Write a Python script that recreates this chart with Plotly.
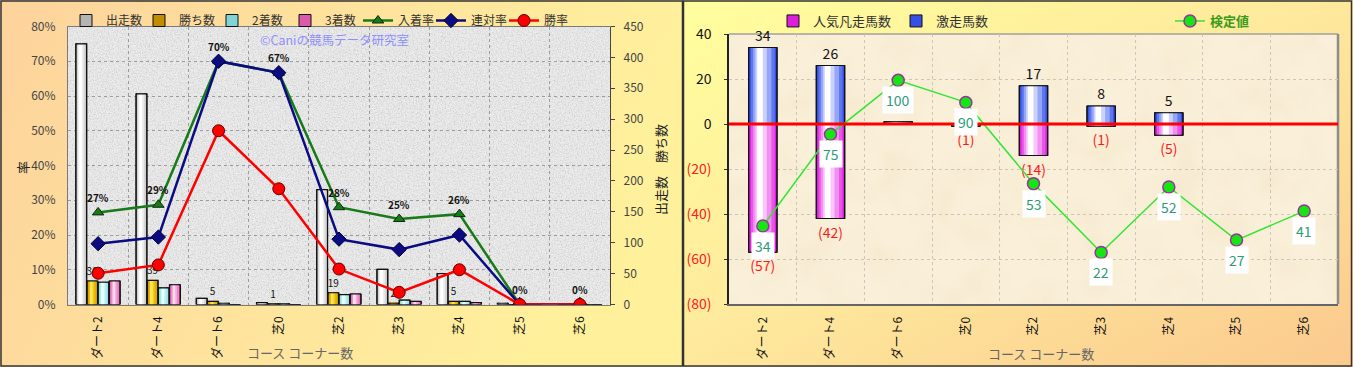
import base64
import plotly.graph_objects as go

# ---------------- data ----------------
categories = ['ダート2', 'ダート4', 'ダート6', '芝0', '芝2', '芝3', '芝4', '芝5', '芝6']

# left chart (counts on right axis, rates in % on left axis)
runs = [422, 341, 10, 3, 186, 57, 50, 2, 0]
wins = [38, 39, 5, 1, 19, 2, 5, 0, 0]
seconds = [36, 27, 2, 1, 16, 7, 5, 0, 0]
thirds = [38, 32, 0, 0, 17, 5, 3, 0, 0]
place_rate = [26.5, 28.7, 70.0, 66.7, 28.0, 24.6, 26.0, 0, 0]
quinella_rate = [17.5, 19.4, 70.0, 66.7, 18.8, 15.8, 20.0, 0, 0]
win_rate = [9.0, 11.4, 50.0, 33.3, 10.2, 3.5, 10.0, 0, 0]
place_labels = ['27%', '29%', '70%', '67%', '28%', '25%', '26%', '0%', '0%']
pct_ticks = [0, 10, 20, 30, 40, 50, 60, 70, 80]
pct_tick_text = ['0%', '10%', '20%', '30%', '40%', '50%', '60%', '70%', '80%']
count_ticks = [0, 50, 100, 150, 200, 250, 300, 350, 400, 450]

# right chart
hit_counts = [34, 26, 1, 0, 17, 8, 5, 0, 0]          # 激走馬数
hit_labels = ['34', '26', '', '', '17', '8', '5', '', '']
flop_counts = [57, 42, 0, 1, 14, 1, 5, 0, 0]         # 人気凡走馬数
test_values = [-45.3, -4.6, 19.4, 9.6, -26.5, -57.1, -28.0, -51.6, -38.7]
test_labels = ['34', '75', '100', '90', '53', '22', '52', '27', '41']
right_tick_vals = [40, 20, 0, -20, -40, -60, -80]
right_tick_text = ['40', '20', '0', '(20)', '(40)', '(60)', '(80)']

# ---------------- geometry helpers ----------------
W, H = 1353, 367
FONT = 'Noto Sans CJK JP, Noto Sans, sans-serif'


def px(x):
    return x / W


def py(y):
    return 1 - y / H


L_X0, L_X1, L_Y0, L_Y1 = 68, 610, 26.5, 304.5
R_X0, R_X1, R_Y0, R_Y1 = 729, 1338, 34, 304

# ---------------- background (svg) ----------------
svg = f"""<svg xmlns='http://www.w3.org/2000/svg' width='{W}' height='{H}' viewBox='0 0 {W} {H}' preserveAspectRatio='none'>
<defs>
<linearGradient id='gl' x1='0' y1='0' x2='1' y2='0.25'>
<stop offset='0' stop-color='#fdd39c'/><stop offset='0.55' stop-color='#fee49d'/><stop offset='1' stop-color='#fff19c'/>
</linearGradient>
<linearGradient id='gr' x1='0' y1='0' x2='1' y2='1'>
<stop offset='0' stop-color='#ffff9e'/><stop offset='0.5' stop-color='#fee89c'/><stop offset='1' stop-color='#fbc98e'/>
</linearGradient>
<filter id='granite' x='0' y='0' width='1' height='1'>
<feTurbulence type='fractalNoise' baseFrequency='0.75' numOctaves='3' seed='4'/>
<feColorMatrix type='matrix' values='0 0 0 0 0.35  0 0 0 0 0.35  0 0 0 0 0.35  0.9 0 0 0 -0.36'/>
</filter>
<filter id='paper' x='0' y='0' width='1' height='1'>
<feTurbulence type='fractalNoise' baseFrequency='0.025' numOctaves='3' seed='7'/>
<feColorMatrix type='matrix' values='0 0 0 0 0.88  0 0 0 0 0.78  0 0 0 0 0.55  0.9 0 0 0 -0.33'/>
</filter>
</defs>
<rect x='0' y='0' width='683' height='{H}' fill='url(#gl)'/>
<rect x='683' y='0' width='{W-683}' height='{H}' fill='url(#gr)'/>
<rect x='{L_X0}' y='{L_Y0}' width='{L_X1-L_X0}' height='{L_Y1-L_Y0}' fill='#ececec'/>
<rect x='{L_X0}' y='{L_Y0}' width='{L_X1-L_X0}' height='{L_Y1-L_Y0}' fill='#fff' filter='url(#granite)'/>
<rect x='{R_X0}' y='{R_Y0}' width='{R_X1-R_X0}' height='{R_Y1-R_Y0}' fill='#faf0da'/>
<rect x='{R_X0}' y='{R_Y0}' width='{R_X1-R_X0}' height='{R_Y1-R_Y0}' fill='#fff' filter='url(#paper)'/>
<line x1='{R_X0}' y1='{R_Y0}' x2='{R_X1}' y2='{R_Y0}' stroke='#a0a0a0' stroke-width='1.5'/>
<line x1='{R_X1}' y1='{R_Y0}' x2='{R_X1}' y2='{R_Y1}' stroke='#8c8c8c' stroke-width='2.5'/>
<rect x='1' y='1' width='681.5' height='{H-2}' fill='none' stroke='#333' stroke-width='1.5'/>
<rect x='683.5' y='1' width='{W-685}' height='{H-2}' fill='none' stroke='#333' stroke-width='1.5'/>
</svg>"""
bg_uri = 'data:image/svg+xml;base64,' + base64.b64encode(svg.encode('utf-8')).decode('ascii')

fig = go.Figure()


def layered_bars(x, y, offset, width, base_color, stops, name, legend, xaxis, yaxis,
                 text=None, textfont=None, showlegend=True):
    fig.add_trace(go.Bar(
        x=x, y=y, offset=offset, width=width, name=name, legend=legend,
        legendgroup=name, showlegend=showlegend, xaxis=xaxis, yaxis=yaxis,
        marker=dict(color=base_color, line=dict(color='#111', width=1)),
        textposition='none', hoverinfo='skip'))
    for lft, rgt, col in stops:
        fig.add_trace(go.Bar(
            x=x, y=y, offset=offset + lft * width, width=(rgt - lft) * width,
            legendgroup=name, showlegend=False, xaxis=xaxis, yaxis=yaxis,
            marker=dict(color=col, line=dict(width=0)),
            textposition='none', hoverinfo='skip'))
    fig.add_trace(go.Bar(
        x=x, y=y, offset=offset, width=width, legendgroup=name, showlegend=False,
        xaxis=xaxis, yaxis=yaxis,
        marker=dict(color='rgba(0,0,0,0)', line=dict(color='#111', width=1.2)),
        text=text, textposition='outside' if text else 'none', constraintext='none',
        cliponaxis=False, textfont=textfont, hoverinfo='skip'))


# ---------------- left chart ----------------
BW = 0.18
layered_bars(categories, runs, -0.37, BW, '#b4b4b4',
             [(0.1, 0.9, '#d6d6d6'), (0.2, 0.72, '#eeeeee'), (0.3, 0.55, '#ffffff')],
             '出走数', 'legend', 'x', 'y')
layered_bars(categories, wins, -0.185, BW, '#c08e00',
             [(0.12, 0.88, '#e2b000'), (0.25, 0.68, '#f4cc10'), (0.35, 0.52, '#ffe060')],
             '勝ち数', 'legend', 'x', 'y',
             text=[str(v) if v > 0 else '' for v in wins],
             textfont=dict(size=10, color='#111', family=FONT))
layered_bars(categories, seconds, 0.0, BW, '#80d4d8',
             [(0.12, 0.88, '#a6e8ea'), (0.25, 0.68, '#ccf6f6'), (0.35, 0.52, '#ecffff')],
             '2着数', 'legend', 'x', 'y')
layered_bars(categories, thirds, 0.185, BW, '#dc5aac',
             [(0.12, 0.88, '#ec86c4'), (0.25, 0.68, '#f6b2dc'), (0.35, 0.52, '#ffdcee')],
             '3着数', 'legend', 'x', 'y')

fig.add_trace(go.Scatter(
    x=categories, y=place_rate, name='入着率', legend='legend', xaxis='x', yaxis='y2',
    mode='lines+markers', line=dict(color='#187a18', width=2.5),
    marker=dict(symbol='triangle-up', size=10, color='#187a18', line=dict(color='#0a2a0a', width=1)),
    hoverinfo='skip'))
fig.add_trace(go.Scatter(
    x=categories, y=quinella_rate, name='連対率', legend='legend', xaxis='x', yaxis='y2',
    mode='lines+markers', line=dict(color='#0c0c82', width=2.5),
    marker=dict(symbol='diamond', size=11, color='#0c0c82', line=dict(color='#000030', width=1)),
    hoverinfo='skip'))
fig.add_trace(go.Scatter(
    x=categories, y=win_rate, name='勝率', legend='legend', xaxis='x', yaxis='y2',
    mode='lines+markers', line=dict(color='#ff0000', width=2.5),
    marker=dict(symbol='circle', size=12, color='#ff0000', line=dict(color='#600000', width=1)),
    hoverinfo='skip'))

# ---------------- right chart ----------------
RBW, ROFF = 0.42, -0.21
layered_bars(categories, [-v if v else None for v in flop_counts], ROFF, RBW, '#dd1edd',
             [(0.08, 0.92, '#e856e8'), (0.16, 0.8, '#f190f1'), (0.24, 0.64, '#f8c6f8'), (0.3, 0.5, '#ffffff')],
             '人気凡走馬数', 'legend2', 'x2', 'y3',
             text=[f'({v})' if v else '' for v in flop_counts],
             textfont=dict(size=14, color='#ff1a1a', family=FONT))
layered_bars(categories, [v if v else None for v in hit_counts], ROFF, RBW, '#3650e6',
             [(0.08, 0.92, '#5e76ef'), (0.16, 0.8, '#96a6f6'), (0.24, 0.64, '#cad2fb'), (0.3, 0.5, '#ffffff')],
             '激走馬数', 'legend2', 'x2', 'y3',
             text=hit_labels,
             textfont=dict(size=14, color='#111', family=FONT))

fig.add_trace(go.Scatter(
    x=categories, y=test_values, name='検定値', legend='legend3', xaxis='x2', yaxis='y3',
    mode='lines+markers', line=dict(color='#33e633', width=1.5),
    marker=dict(symbol='circle', size=12, color='#14e614', line=dict(color='#993399', width=1.5)),
    hoverinfo='skip'))

# ---------------- annotations ----------------
ann = []
for c, v, t in zip(categories, place_rate, place_labels):
    ann.append(dict(x=c, y=v, xref='x', yref='y2', text=f'<b>{t}</b>', showarrow=False,
                    yshift=15, font=dict(size=10, color='#111', family=FONT)))
for c, v, t in zip(categories, test_values, test_labels):
    ann.append(dict(x=c, y=v, xref='x2', yref='y3', text=t, showarrow=False, yshift=-20,
                    bgcolor='#ffffff', borderpad=3, font=dict(size=14, color='#2f9a7a', family=FONT)))
paper_txt = dict(xref='paper', yref='paper', xanchor='center', yanchor='middle', showarrow=False)
ann += [
    dict(x=px(334), y=py(39.5), text='©Caniの競馬データ研究室',
         font=dict(size=12.5, color='#8f8fff', family=FONT), **paper_txt),
    dict(x=px(300), y=py(352), text='コース コーナー数',
         font=dict(size=13, color='#666', family=FONT), **paper_txt),
    dict(x=px(1041), y=py(353), text='コース コーナー数',
         font=dict(size=13, color='#666', family=FONT), **paper_txt),
    dict(x=px(22), y=py(168), text='率', textangle=-90,
         font=dict(size=13, color='#222', family=FONT), **paper_txt),
    dict(x=px(661), y=py(170), text='出走数　勝ち数', textangle=-90,
         font=dict(size=13, color='#222', family=FONT), **paper_txt),
]

grid_l = dict(showgrid=True, gridcolor='#9c9c9c', griddash='dot', gridwidth=1)
grid_r = dict(showgrid=True, gridcolor='#cbc6bc', griddash='dot', gridwidth=1)
tick_font = dict(size=12, color='#111', family=FONT)

fig.update_layout(
    width=W, height=H, autosize=False,
    margin=dict(l=0, r=0, t=0, b=0, pad=0, autoexpand=False),
    paper_bgcolor='#fee8a0', plot_bgcolor='rgba(0,0,0,0)',
    font=dict(family=FONT, color='#333'),
    barmode='overlay',
    images=[dict(source=bg_uri, xref='paper', yref='paper', x=0, y=1, sizex=1, sizey=1,
                 xanchor='left', yanchor='top', sizing='stretch', layer='below')],
    xaxis=dict(domain=[px(L_X0), px(L_X1)], anchor='y', type='category', automargin=False,
               categoryorder='array', categoryarray=categories, range=[-0.5, 8.5],
               tickson='boundaries', ticks='', tickangle=-90, tickfont=tick_font,
               ticklabelstandoff=6, showline=True, linecolor='#7a7a7a', linewidth=1.2,
               mirror=True, **grid_l),
    yaxis=dict(domain=[py(L_Y1), py(L_Y0)], anchor='x', side='right', range=[0, 450],
               automargin=False,
               tickvals=count_ticks, ticks='outside', ticklen=4, tickcolor='#444',
               ticklabelstandoff=6, tickfont=dict(size=12, color='#444', family=FONT),
               showgrid=False, showline=True, linecolor='#444', linewidth=1.2, zeroline=False),
    yaxis2=dict(overlaying='y', anchor='x', side='left', range=[0, 80], automargin=False,
                tickvals=pct_ticks, ticktext=pct_tick_text, ticks='', ticklabelstandoff=9,
                tickfont=dict(size=12, color='#444', family=FONT),
                showline=True, linecolor='#7a7a7a', linewidth=1.2, zeroline=False, **grid_l),
    xaxis2=dict(domain=[px(R_X0), px(R_X1)], anchor='y3', type='category', automargin=False,
                categoryorder='array', categoryarray=categories, range=[-0.5, 8.5],
                tickson='boundaries', ticks='', tickangle=-90, tickfont=tick_font,
                ticklabelstandoff=6, showline=True, linecolor='#666', linewidth=2, **grid_r),
    yaxis3=dict(domain=[py(R_Y1), py(R_Y0)], anchor='x2', range=[-80, 40], automargin=False,
                tickvals=right_tick_vals,
                ticktext=[t if not t.startswith('(') else f"<span style='color:#ff2020'>{t}</span>"
                          for t in right_tick_text],
                ticks='outside', ticklen=3, tickcolor='#333', ticklabelstandoff=10,
                tickfont=dict(size=14, color='#111', family=FONT),
                showline=True, linecolor='#222', linewidth=1.5, zeroline=False, **grid_r),
    legend=dict(orientation='h', x=px(66), y=py(6), xanchor='left', yanchor='top',
                bgcolor='rgba(0,0,0,0)', font=dict(size=12, color='#333', family=FONT),
                itemwidth=30, entrywidth=28, entrywidthmode='pixels', traceorder='normal'),
    legend2=dict(orientation='h', x=px(773), y=py(6), xanchor='left', yanchor='top',
                 bgcolor='rgba(0,0,0,0)', font=dict(size=13, color='#333', family=FONT),
                 itemwidth=30, traceorder='normal'),
    legend3=dict(orientation='h', x=px(1170), y=py(6), xanchor='left', yanchor='top',
                 bgcolor='rgba(0,0,0,0)',
                 font=dict(size=13, color='#3a9a1a', family=FONT, weight='bold'),
                 itemwidth=30),
    shapes=[dict(type='line', xref='x2 domain', x0=0, x1=1, yref='y3', y0=0, y1=0,
                 line=dict(color='#ff0000', width=3), layer='above')],
    annotations=ann,
    showlegend=True,
)

fig.write_html('out.html', config={'displayModeBar': False},
               post_script="document.body.style.margin='0';document.body.style.padding='0';")
